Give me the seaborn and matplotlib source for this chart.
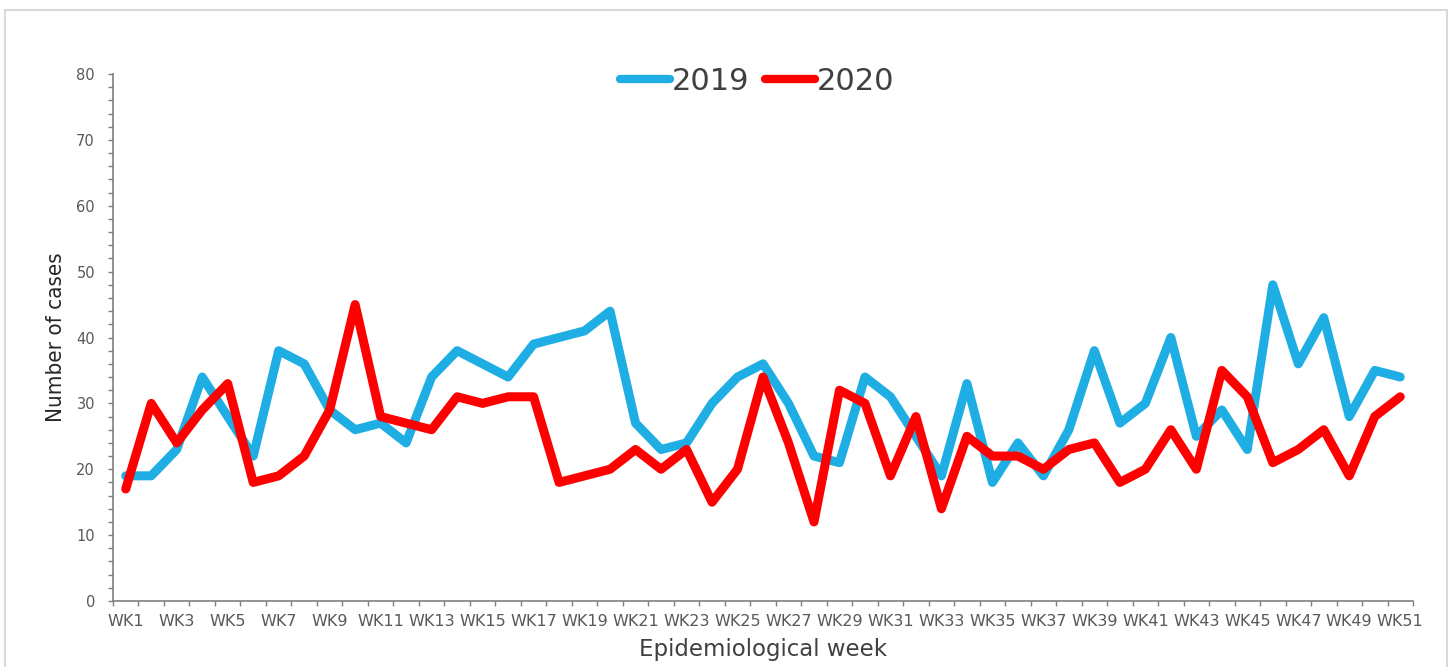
import matplotlib
matplotlib.use("Agg")
import matplotlib.pyplot as plt
from matplotlib.patches import Rectangle
from matplotlib.ticker import MultipleLocator, FixedLocator
import seaborn as sns
import pandas as pd

weeks = [f"WK{i}" for i in range(1, 52)]
cases_2019 = [19, 19, 23, 34, 28, 22, 38, 36, 29, 26, 27, 24, 34, 38, 36, 34, 39, 40, 41, 44,
              27, 23, 24, 30, 34, 36, 30, 22, 21, 34, 31, 25, 19, 33, 18, 24, 19, 26, 38, 27,
              30, 40, 25, 29, 23, 48, 36, 43, 28, 35, 34]
cases_2020 = [17, 30, 24, 29, 33, 18, 19, 22, 29, 45, 28, 27, 26, 31, 30, 31, 31, 18, 19, 20,
              23, 20, 23, 15, 20, 34, 24, 12, 32, 30, 19, 28, 14, 25, 22, 22, 20, 23, 24, 18,
              20, 26, 20, 35, 31, 21, 23, 26, 19, 28, 31]
years = ["2019", "2020"]
colors = {"2019": "#1FAEE3", "2020": "#FF0000"}

df = pd.concat([
    pd.DataFrame({"week": weeks, "cases": cases_2019, "year": "2019"}),
    pd.DataFrame({"week": weeks, "cases": cases_2020, "year": "2020"}),
])

sns.set_style("white")
plt.rcParams["font.family"] = ["DejaVu Sans"]

fig = plt.figure(figsize=(14.52, 6.67), dpi=100)
ax = fig.add_axes([113 / 1452, 1 - 601 / 667, 1300 / 1452, 527 / 667])

sns.lineplot(data=df, x="week", y="cases", hue="year", hue_order=years, palette=colors,
             linewidth=6.5, sort=False, ax=ax, solid_capstyle="round", solid_joinstyle="round")

n = len(weeks)
ax.set_xlim(-0.5, n - 0.5)
ax.set_ylim(0, 80)

tick_col = "#7f7f7f"
# x ticks: labels every other week, tick marks at category boundaries
ax.xaxis.set_major_locator(FixedLocator(list(range(0, n, 2))))
ax.set_xticklabels(weeks[::2])
ax.xaxis.set_minor_locator(FixedLocator([i - 0.5 for i in range(n + 1)]))
ax.tick_params(axis="x", which="major", bottom=True, length=0, pad=9, labelsize=11.5,
               labelcolor="#595959")
ax.tick_params(axis="x", which="minor", bottom=True, length=3.6, width=1, color=tick_col,
               direction="out")

ax.yaxis.set_major_locator(MultipleLocator(10))
ax.yaxis.set_minor_locator(MultipleLocator(2))
ax.tick_params(axis="y", which="major", left=True, length=3.6, width=1, color=tick_col,
               direction="out", pad=9.4, labelsize=10.5, labelcolor="#595959")
ax.tick_params(axis="y", which="minor", left=True, length=3.6, width=1, color=tick_col,
               direction="out")

for s in ["top", "right"]:
    ax.spines[s].set_visible(False)
for s in ["left", "bottom"]:
    ax.spines[s].set_color(tick_col)
    ax.spines[s].set_linewidth(1.2)

ax.set_xlabel("Epidemiological week", fontsize=16.5, color="#404040", labelpad=7)
ax.set_ylabel("Number of cases", fontsize=16, color="#262626", fontstretch="condensed",
              family=["DejaVu Sans"])
ax.yaxis.set_label_coords((66 - 113) / 1300, 0.5)

handles, labels = ax.get_legend_handles_labels()
leg = ax.legend(handles, labels, loc="center", bbox_to_anchor=(757 / 1452, 1 - 81 / 667),
                bbox_transform=fig.transFigure, ncol=2, frameon=False, fontsize=22,
                handlelength=1.65, handletextpad=0.05, columnspacing=0.5, borderpad=0)
for t in leg.get_texts():
    t.set_color("#404040")
for h in leg.get_lines():
    h.set_linewidth(6)
    h.set_solid_capstyle("round")

fig.patches.append(Rectangle((5 / 1452, -0.02), 1442 / 1452, (657 / 667) + 0.02,
                             transform=fig.transFigure, fill=False,
                             edgecolor="#d9d9d9", linewidth=1.5))

fig.savefig("out.png", dpi=100)
